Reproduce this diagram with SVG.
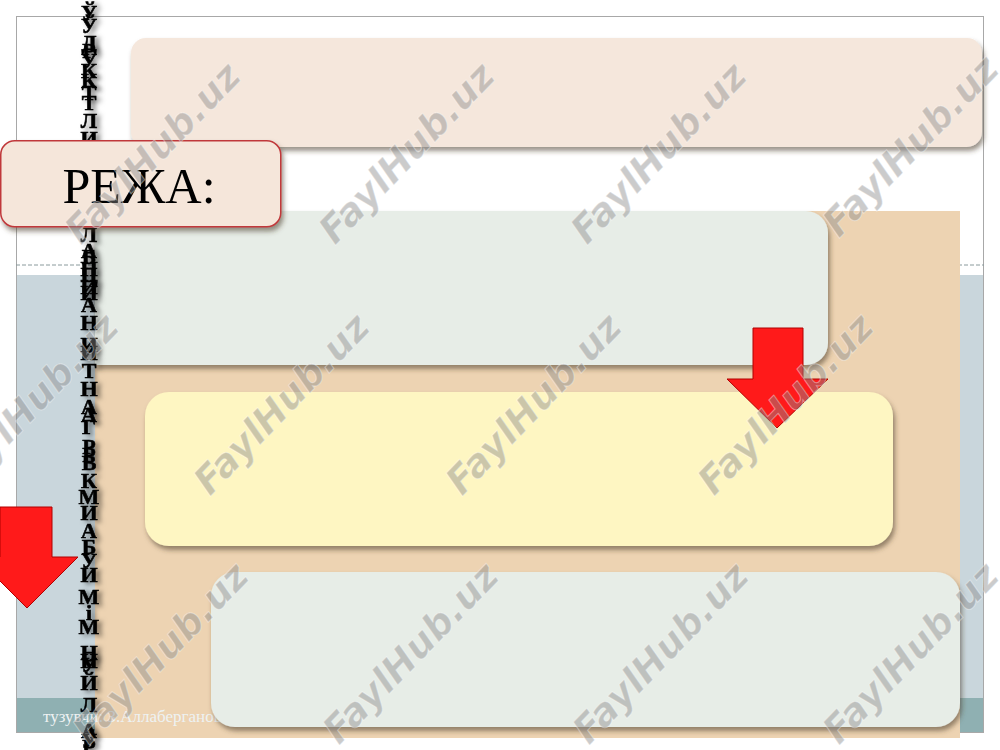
<svg xmlns="http://www.w3.org/2000/svg" width="1000" height="750" viewBox="0 0 1000 750">
<defs>
<style>
.box{filter:url(#sh)}
.col{font-family:"Liberation Serif",serif;font-weight:bold;font-size:22px;fill:#000;stroke:#000;stroke-width:0.6;text-anchor:middle;filter:url(#tsh)}
.wm{font-family:"DejaVu Sans",sans-serif;font-weight:bold;font-style:italic;font-size:38px;fill:#8a8a8a;fill-opacity:0.45;stroke:#ffffff;stroke-opacity:0.4;stroke-width:1}
.arrow{fill:#ff1a1a;stroke:#b00000;stroke-width:1}
</style>
<filter id="sh" x="-10%" y="-20%" width="130%" height="150%">
<feDropShadow dx="2" dy="4" stdDeviation="2.5" flood-color="#4a3a2a" flood-opacity="0.55"/>
</filter>
<filter id="tsh" x="-50%" y="-10%" width="250%" height="130%">
<feDropShadow dx="4" dy="2" stdDeviation="2.5" flood-color="#000" flood-opacity="0.5"/>
</filter>
</defs>
<rect width="1000" height="750" fill="#ffffff"/>
<g id="slide">
<rect x="16.5" y="16.5" width="967" height="716" fill="#ffffff" stroke="#a8a8a8" stroke-width="1"/>
<line x1="16" y1="265" x2="984" y2="265" stroke="#8a9a9c" stroke-width="1" stroke-dasharray="4,2"/>
<rect x="17" y="275" width="966" height="423" fill="#c9d6dc"/>
<rect x="17" y="698" width="966" height="34" fill="#8fb0b2"/>
<rect x="95" y="211" width="865" height="527" fill="#edd3b2"/>
</g>
<g id="footer">
<text x="43" y="722" font-family="Liberation Serif, serif" font-size="17" fill="#eef2f2">тузувчи: З.Аллаберганов</text>
</g>
<g id="box-top" class="box"><rect x="131" y="38" width="851" height="109" rx="15" fill="#f5e7dc"/></g>
<g id="box-1" class="box"><path d="M95 211 H806 A22 22 0 0 1 828 233 V343 A22 22 0 0 1 806 365 H95 Z" fill="#e7ede7"/></g>
<g id="box-2" class="box"><rect x="145" y="392" width="748" height="154" rx="24" fill="#fef6c2"/></g>
<g id="box-3" class="box"><rect x="211" y="572" width="749" height="155" rx="24" fill="#e7ede7"/></g>
<g id="connectors">
<path class="arrow" d="M753 328 H803 V379 H828 L777 428 L727 379 H753 Z"/>
<path class="arrow" d="M0 507 H52 V557 H78 L27 608 L-24 557 H0 Z"/>
</g>
<g id="letters">
<text class="col">
<tspan x="89" y="20">Ў</tspan><tspan x="89" y="50">Д</tspan><tspan x="89" y="68">У</tspan><tspan x="89" y="88">К</tspan><tspan x="89" y="110">Т</tspan><tspan x="89" y="128">Л</tspan><tspan x="89" y="146">И</tspan><tspan x="89" y="242">Л</tspan><tspan x="89" y="258">А</tspan><tspan x="89" y="276">Н</tspan><tspan x="89" y="294">И</tspan><tspan x="89" y="312">А</tspan><tspan x="89" y="330">Н</tspan><tspan x="89" y="360">И</tspan><tspan x="89" y="378">Т</tspan><tspan x="89" y="396">Н</tspan><tspan x="89" y="414">А</tspan><tspan x="89" y="434">Г</tspan><tspan x="89" y="454">Р</tspan><tspan x="89" y="470">В</tspan><tspan x="89" y="488">К</tspan><tspan x="89" y="504">М</tspan><tspan x="89" y="520">И</tspan><tspan x="89" y="538">А</tspan><tspan x="89" y="554">Б</tspan><tspan x="89" y="568">У</tspan><tspan x="89" y="582">И</tspan><tspan x="89" y="604">М</tspan><tspan x="89" y="634">М</tspan><tspan x="89" y="660">Н</tspan><tspan x="89" y="672">У</tspan><tspan x="89" y="690">Й</tspan><tspan x="89" y="712">Л</tspan><tspan x="89" y="738">А</tspan><tspan x="89" y="754">Р</tspan>
</text>
<text class="col">
<tspan x="89" y="33">Ў</tspan><tspan x="89" y="58">Р</tspan><tspan x="89" y="78">К</tspan><tspan x="89" y="100">Т</tspan><tspan x="89" y="264">Б</tspan><tspan x="89" y="282">Ц</tspan><tspan x="89" y="300">И</tspan><tspan x="89" y="352">И</tspan><tspan x="89" y="422">А</tspan><tspan x="89" y="462">Р</tspan><tspan x="89" y="620">і</tspan><tspan x="89" y="668">Н</tspan><tspan x="89" y="748">Ў</tspan>
</text>
</g>
<g id="reja">
<rect class="box" x="0.75" y="140.75" width="280" height="86" rx="14" fill="#f5e6da" stroke="#c0393b" stroke-width="1.5"/>
<text x="139" y="203" font-family="Liberation Serif, serif" font-size="50" text-anchor="middle" fill="#000">РЕЖА:</text>
</g>
<g id="watermarks" class="wm">
<text transform="translate(152,152) rotate(-46)" text-anchor="middle" dy="14">FaylHub.uz</text>
<text transform="translate(406,152) rotate(-46)" text-anchor="middle" dy="14">FaylHub.uz</text>
<text transform="translate(658,152) rotate(-46)" text-anchor="middle" dy="14">FaylHub.uz</text>
<text transform="translate(910,145) rotate(-46)" text-anchor="middle" dy="14">FaylHub.uz</text>
<text transform="translate(30,403) rotate(-46)" text-anchor="middle" dy="14">FaylHub.uz</text>
<text transform="translate(281,403) rotate(-46)" text-anchor="middle" dy="14">FaylHub.uz</text>
<text transform="translate(533,403) rotate(-46)" text-anchor="middle" dy="14">FaylHub.uz</text>
<text transform="translate(785,403) rotate(-46)" text-anchor="middle" dy="14">FaylHub.uz</text>
<text transform="translate(160,652) rotate(-46)" text-anchor="middle" dy="14">FaylHub.uz</text>
<text transform="translate(410,652) rotate(-46)" text-anchor="middle" dy="14">FaylHub.uz</text>
<text transform="translate(660,652) rotate(-46)" text-anchor="middle" dy="14">FaylHub.uz</text>
<text transform="translate(910,652) rotate(-46)" text-anchor="middle" dy="14">FaylHub.uz</text>
</g>
</svg>
